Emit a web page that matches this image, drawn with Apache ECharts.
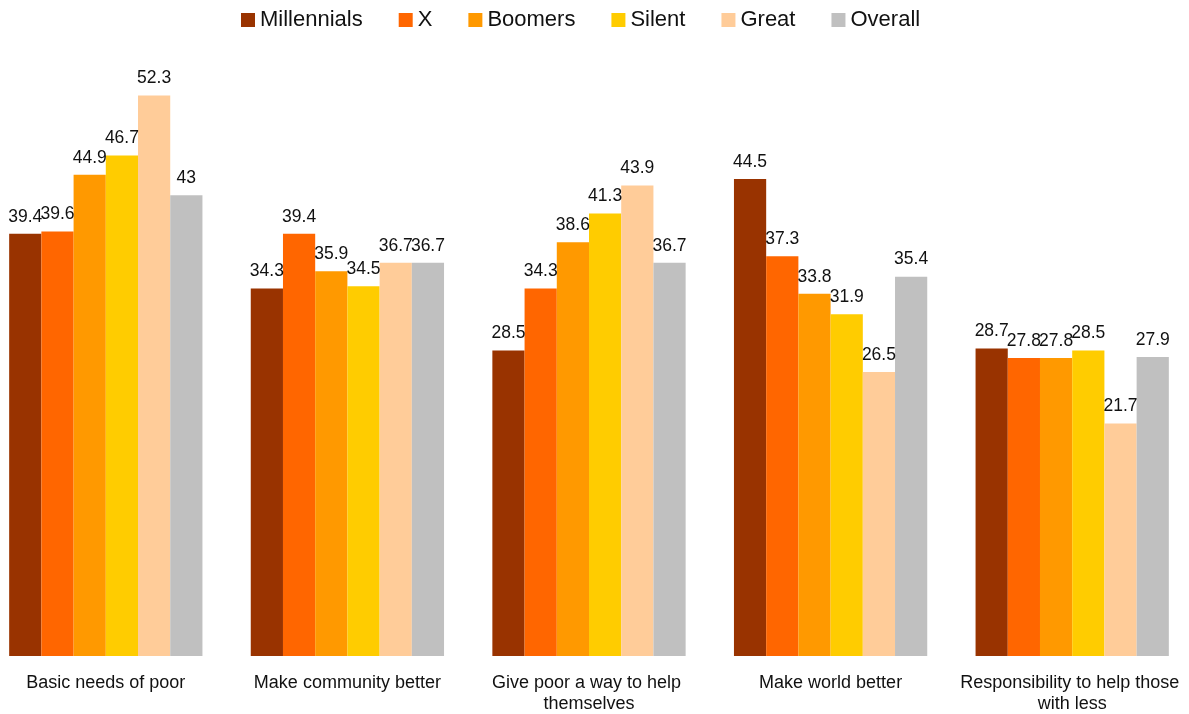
<!DOCTYPE html>
<html>
<head>
<meta charset="utf-8">
<script src="https://cdn.jsdelivr.net/npm/echarts@6/dist/echarts.min.js"></script>
<style>
  html, body { margin: 0; padding: 0; background: #fff; }
  #main { width: 1189px; height: 714px; }
</style>
</head>
<body>
<div id="main"></div>
<script>
var categories = ['Basic needs of poor', 'Make community better', 'Give poor a way to help themselves', 'Make world better', 'Responsibility to help those with less'];
var generations = ['Millennials', 'X', 'Boomers', 'Silent', 'Great', 'Overall'];
var colors = ['#993300', '#ff6600', '#ff9900', '#ffcc00', '#ffcc99', '#c0c0c0'];

var millennials = [39.4, 34.3, 28.5, 44.5, 28.7];
var genX = [39.6, 39.4, 34.3, 37.3, 27.8];
var boomers = [44.9, 35.9, 38.6, 33.8, 27.8];
var silent = [46.7, 34.5, 41.3, 31.9, 28.5];
var great = [52.3, 36.7, 43.9, 26.5, 21.7];
var overall = [43, 36.7, 36.7, 35.4, 27.9];

var values = [millennials, genX, boomers, silent, great, overall];
var fontFam = '"Liberation Sans", Arial, Helvetica, sans-serif';

var mychart = echarts.init(document.getElementById('main'));

var series = [];
generations.forEach(function(name, i) {
    series.push({
        name: name,
        type: 'bar',
        data: values[i],
        barGap: '0%',
        barCategoryGap: '20%',
        itemStyle: { color: colors[i] },
        label: {
            show: true,
            position: 'top',
            distance: 8,
            color: '#111',
            fontSize: 17.5,
            fontFamily: fontFam
        }
    });
});

var option = {
    backgroundColor: '#fff',
    animation: false,
    color: colors,
    legend: {
        top: 4,
        left: 236,
        itemWidth: 14,
        itemHeight: 14,
        itemGap: 36,
        icon: 'rect',
        textStyle: { fontSize: 22, color: '#111', fontFamily: fontFam },
        data: generations
    },
    grid: {
        left: -15,
        width: 1208,
        top: 13,
        bottom: 58,
        outerBoundsMode: 'none',
        containLabel: false
    },
    xAxis: {
        type: 'category',
        data: categories,
        axisLine: { show: false },
        axisTick: { show: false },
        axisLabel: {
            interval: 0,
            margin: 17,
            fontSize: 18,
            lineHeight: 21,
            color: '#111',
            fontFamily: fontFam,
            width: 228,
            overflow: 'break'
        }
    },
    yAxis: {
        type: 'value',
        min: 0,
        max: 60,
        show: false,
        splitLine: { show: false }
    },
    series: series
};

mychart.setOption(option);
</script>
</body>
</html>
